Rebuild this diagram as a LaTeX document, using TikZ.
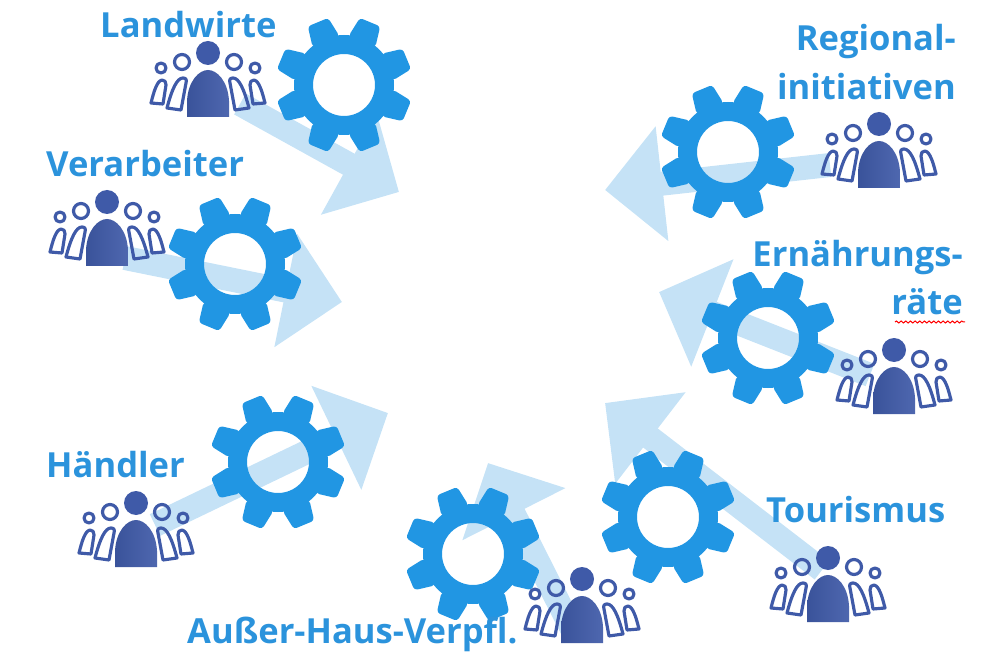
\documentclass[tikz,border=0pt]{standalone}
\usepackage{fontspec}
\setmainfont{Open Sans}
\usepackage{xcolor}
\usetikzlibrary{positioning,arrows.meta,decorations.pathmorphing}
\definecolor{gearblue}{HTML}{2196E3}
\definecolor{flowblue}{HTML}{C5E2F6}
\definecolor{labelblue}{HTML}{2B93DC}
\definecolor{crowdblue}{HTML}{3F5AA8}

\begin{document}
\begin{tikzpicture}[
    x=0.03cm, y=-0.03cm,
    flow/.style={draw=flowblue, line width=0.72cm, -{Triangle[length=1.72cm,width=3.36cm,fill=flowblue]}},
    label/.style={inner sep=0pt, text=labelblue, font=\fontsize{29.5}{33}\selectfont\bfseries},
    friends/.style={draw=crowdblue, line width=0.095cm, line join=round},
    gear/.pic={
        \fill[gearblue, even odd rule] (0,0) circle (50) (0,0) circle (31);
        \foreach \a in {22.5,67.5,...,337.5} {
            \fill[gearblue, rotate=\a, rounded corners=0.1cm] (47,-14.5) -- (68,-11) -- (68,11) -- (47,14.5) -- cycle;
        }
    },
    people/.pic={
        \fill[crowdblue] (0,0) circle (12);
        \shade[left color=crowdblue!92!black, right color=crowdblue!92!white] (-21,64) -- (-21,48) .. controls (-20,28) and (-9,17) .. (0,17) .. controls (9,17) and (20,28) .. (21,48) -- (21,64) -- cycle;
        \foreach \s in {-1,1} {
            \begin{scope}[xscale=\s]
                \draw[friends] (26,9) circle (7.5);
                \draw[friends] (47,15) circle (5);
                \draw[friends] (25,25) .. controls (31,25) and (36,36) .. (41,55) -- (27,57) -- (22,30) .. controls (21,27) and (22,25) .. cycle;
                \draw[friends] (46,27) .. controls (51,28) and (54,38) .. (57,50) -- (45,51) -- (42,32) .. controls (42,29) and (43,27) .. cycle;
            \end{scope}
        }
    }
]
    \useasboundingbox (0,0) rectangle (982,654);

    \foreach \n/\x/\y in {1/344/85,2/235/264,3/278/462,4/473/554,5/668/517,6/768/338,7/728/152} {
        \coordinate (G\n) at (\x,\y);
    }
    \foreach \n/\x/\y in {1/208/53,2/107/202,3/136/503,4/582/579,5/828/558,6/894/350,7/879/124} {
        \coordinate (P\n) at (\x,\y);
    }
    % Arrow start and tip
    \foreach \n/\x/\y/\u/\v in {1/240/104/399/192,2/125/258/342/302,3/155/525/388/413,4/576/637/488/463,5/822/570/605/403,6/870/375/659/292,7/830/165/605/190} {
        \coordinate (S\n) at (\x,\y);
        \coordinate (T\n) at (\u,\v);
    }

    \foreach \n in {1,...,7} {
        \draw[flow] (S\n) -- (T\n);
    }
    \foreach \n in {1,...,7} {
        \pic at (G\n) {gear};
    }
    \foreach \n in {1,...,7} {
        \pic at (P\n) {people};
    }

    \node[label, anchor=base west] (Landwirte) at (100,38) {Landwirte};
    \node[label, anchor=base west] (Verarbeiter) at (46,177) {Verarbeiter};
    \node[label, anchor=base west] (Haendler) at (46,477) {Händler};
    \node[label, anchor=base west] (Ausser) at (187,643) {Außer-Haus-Verpfl.};
    \node[label, anchor=base west] (Tourismus) at (766,522) {Tourismus};
    \node[label, anchor=base east] (Regional) at (956,51) {Regional-};
    \node[label, anchor=base east] (Initiativen) at (956,100) {initiativen};
    \node[label, anchor=base east] (Ernaehrung) at (963,267) {Ernährungs-};
    \node[label, anchor=base east] (Raete) at (963,315) {räte};

    % Spell check mark
    \draw[red, line width=0.03cm, decorate, decoration={snake, amplitude=0.03cm, segment length=0.14cm}] (895,322) -- (965,322);
\end{tikzpicture}
\end{document}
